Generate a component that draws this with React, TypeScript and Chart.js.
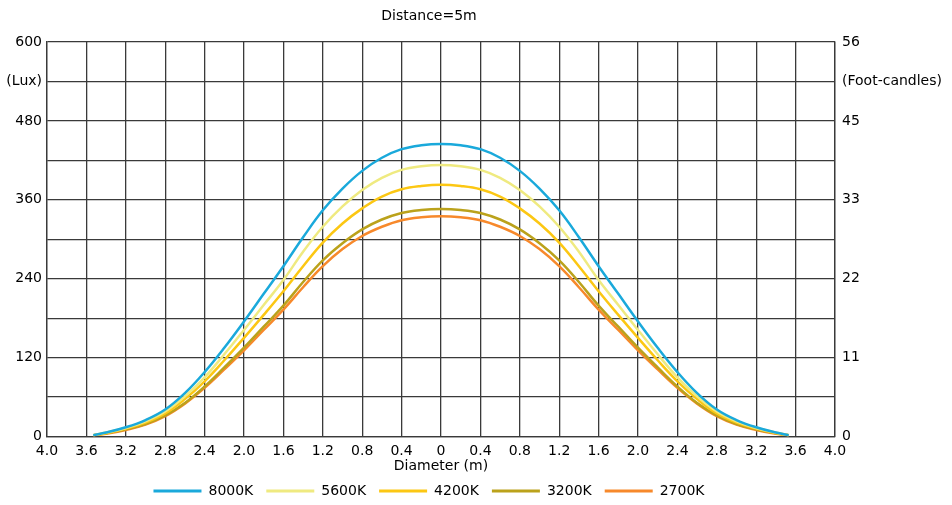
import React, { useEffect, useRef } from "react";
import { Chart, registerables } from "chart.js";

Chart.register(...registerables);

const xPositions = [-3.53, -3.4, -3.2, -3.0, -2.8, -2.6, -2.4, -2.2, -2.0, -1.8, -1.6, -1.4, -1.2, -1.0, -0.8, -0.6, -0.4, -0.2, 0, 0.2, 0.4, 0.6, 0.8, 1.0, 1.2, 1.4, 1.6, 1.8, 2.0, 2.2, 2.4, 2.6, 2.8, 3.0, 3.2, 3.4, 3.53];

const lux8000K = [2, 6, 14, 25, 41, 66, 98, 135, 175, 217, 259, 303, 344, 377, 404, 424, 437, 443, 445, 443, 437, 424, 404, 377, 344, 303, 259, 217, 175, 135, 98, 66, 41, 25, 14, 6, 2];
const lux5600K = [2, 6, 13, 23, 38, 61, 90, 125, 162, 200, 238, 281, 319, 350, 375, 393.5, 405.5, 411, 413, 411, 405.5, 393.5, 375, 350, 319, 281, 238, 200, 162, 125, 90, 61, 38, 23, 13, 6, 2];
const lux4200K = [2, 5, 12, 21, 35, 57, 84, 116, 150, 185, 221, 259, 295, 324, 347, 365, 376, 381, 383, 381, 376, 365, 347, 324, 295, 259, 221, 185, 150, 116, 84, 57, 35, 21, 12, 5, 2];
const lux3200K = [2, 5, 11, 19, 32, 51, 76, 105, 135, 167, 199, 235, 268, 294, 315, 330, 340, 344.5, 346, 344.5, 340, 330, 315, 294, 268, 235, 199, 167, 135, 105, 76, 51, 32, 19, 11, 5, 2];
const lux2700K = [2, 4, 10, 18, 31, 50, 74, 102, 131, 162, 193, 227, 259, 285, 305, 319, 329, 333.5, 335, 333.5, 329, 319, 305, 285, 259, 227, 193, 162, 131, 102, 74, 50, 31, 18, 10, 4, 2];

const seriesNames = ["8000K", "5600K", "4200K", "3200K", "2700K"];
const seriesValues = [lux8000K, lux5600K, lux4200K, lux3200K, lux2700K];
const seriesColors = ["#1aa9db", "#efea80", "#fcc713", "#bba21b", "#f7892b"];

const xTickValues = [-4, -3.6, -3.2, -2.8, -2.4, -2.0, -1.6, -1.2, -0.8, -0.4, 0, 0.4, 0.8, 1.2, 1.6, 2.0, 2.4, 2.8, 3.2, 3.6, 4];
const xTickLabels = ["4.0", "3.6", "3.2", "2.8", "2.4", "2.0", "1.6", "1.2", "0.8", "0.4", "0", "0.4", "0.8", "1.2", "1.6", "2.0", "2.4", "2.8", "3.2", "3.6", "4.0"];

const luxTickValues = [0, 60, 120, 180, 240, 300, 360, 420, 480, 540, 600];
const luxTickLabels = ["0", "", "120", "", "240", "", "360", "", "480", "(Lux)", "600"];

const fcTickValues = [0, 5.6, 11.2, 16.8, 22.4, 28, 33.6, 39.2, 44.8, 50.4, 56];
const fcTickLabels = ["0", "", "11", "", "22", "", "33", "", "45", "(Foot-candles)", "56"];

const FONT = "'DejaVu Sans', Verdana, sans-serif";
const TEXT = "#000";
const GRID = "#3a3a3a";
const SHIFT = 94;

export default function App() {
  const canvasRef = useRef<HTMLCanvasElement | null>(null);

  useEffect(() => {
    document.body.style.margin = "0";
    const canvas = canvasRef.current;
    if (!canvas) return;

    const chart = new Chart(canvas, {
      type: "line",
      data: {
        datasets: seriesNames.map((name, i) => ({
          label: name,
          data: xPositions.map((x, j) => ({ x, y: seriesValues[i][j] })),
          borderColor: seriesColors[i],
          backgroundColor: seriesColors[i],
          borderWidth: 2.5,
          pointRadius: 0,
          tension: 0.4,
          fill: false,
          yAxisID: "y",
        })),
      },
      options: {
        animation: false,
        responsive: false,
        maintainAspectRatio: false,
        devicePixelRatio: 1,
        layout: { padding: { left: -SHIFT, right: 0, top: 0, bottom: -3 } },
        plugins: {
          title: {
            display: true,
            text: "Distance=5m",
            color: TEXT,
            font: { family: FONT, size: 14, weight: "normal" },
            padding: { top: 8, bottom: 17.2 },
          },
          legend: {
            display: true,
            position: "bottom",
            labels: {
              color: TEXT,
              font: { family: FONT, size: 14 },
              boxWidth: 48,
              boxHeight: 3,
              padding: 13,
              generateLabels: (ch: any) =>
                ch.data.datasets.map((ds: any, i: number) => ({
                  text: ds.label,
                  fillStyle: seriesColors[i],
                  strokeStyle: seriesColors[i],
                  lineWidth: 0,
                  hidden: false,
                  datasetIndex: i,
                  fontColor: TEXT,
                })),
            },
          },
          tooltip: { enabled: false },
        },
        scales: {
          x: {
            type: "linear",
            min: -4,
            max: 4,
            afterBuildTicks: (s: any) => {
              s.ticks = xTickValues.map((v) => ({ value: v }));
            },
            afterFit: (s: any) => {
              s.height = 34.5;
            },
            ticks: {
              autoSkip: false,
              maxRotation: 0,
              padding: 6,
              color: TEXT,
              font: { family: FONT, size: 14 },
              callback: (_v: any, i: number) => xTickLabels[i],
            },
            grid: { color: GRID, lineWidth: 1.3, drawTicks: false },
            border: { color: GRID, width: 1.3 },
            title: {
              display: true,
              text: "Diameter (m)",
              color: TEXT,
              font: { family: FONT, size: 14 },
              padding: { top: 0, bottom: -4 },
            },
          },
          y: {
            position: "left",
            min: 0,
            max: 600,
            afterBuildTicks: (s: any) => {
              s.ticks = luxTickValues.map((v) => ({ value: v }));
            },
            afterFit: (s: any) => {
              s.width = 47 + SHIFT;
            },
            ticks: {
              autoSkip: false,
              padding: 5,
              color: TEXT,
              font: { family: FONT, size: 14 },
              callback: (_v: any, i: number) => luxTickLabels[i],
            },
            grid: { color: GRID, lineWidth: 1.3, drawTicks: false },
            border: { color: GRID, width: 1.3 },
          },
          y2: {
            position: "right",
            min: 0,
            max: 56,
            afterBuildTicks: (s: any) => {
              s.ticks = fcTickValues.map((v) => ({ value: v }));
            },
            afterFit: (s: any) => {
              s.width = 117;
            },
            ticks: {
              autoSkip: false,
              padding: 7,
              color: TEXT,
              font: { family: FONT, size: 14 },
              callback: (_v: any, i: number) => fcTickLabels[i],
            },
            grid: { display: false, drawTicks: false },
            border: { color: GRID, width: 1.3 },
          },
        },
      } as any,
    });

    return () => {
      chart.destroy();
    };
  }, []);

  return (
    <div style={{ width: 952, height: 505, position: "relative" }}>
      <canvas ref={canvasRef} width={952} height={505} style={{ display: "block", width: 952, height: 505 }} />
    </div>
  );
}
